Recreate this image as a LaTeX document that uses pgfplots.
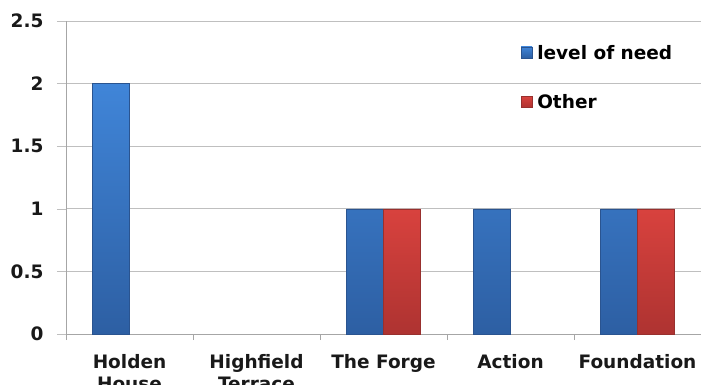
\documentclass[border=0pt]{standalone}
\usepackage{pgfplots}
\pgfplotsset{compat=1.18}
\usepackage{fontspec}
\setmainfont{DejaVu Sans}
\definecolor{bluetop}{HTML}{4085D8}
\definecolor{bluebot}{HTML}{2D5FA3}
\definecolor{blueedge}{HTML}{2A5490}
\definecolor{redtop}{HTML}{D8423E}
\definecolor{redbot}{HTML}{AE3331}
\definecolor{rededge}{HTML}{98302E}
\definecolor{gridc}{HTML}{BFBFBF}
\definecolor{axisc}{HTML}{A6A6A6}
\begin{document}
\begin{tikzpicture}
\begin{axis}[
  at={(0pt,0pt)}, anchor=south west,
  scale only axis,
  width=635pt, height=313pt,
  xmin=-0.5, xmax=4.5,
  ymin=0, ymax=2.5,
  ytick={0,0.5,1,1.5,2,2.5},
  yticklabels={0,0.5,1,1.5,2,2.5},
  xtick={0,1,2,3,4},
  xticklabels={{Holden\\House},{Highfield\\Terrace},{The Forge},{Action},{Foundation}},
  minor xtick={-0.5,0.5,1.5,2.5,3.5,4.5},
  major x tick style={draw=none},
  minor x tick style={axisc},
  minor tick length=6pt,
  major tick length=9pt,
  tick align=outside,
  ytick style={gridc},
  axis x line*=bottom,
  axis y line*=left,
  axis line style={axisc,-},
  ymajorgrids,
  major grid style={gridc, line width=0.8pt},
  ybar=0pt,
  bar width=37pt,
  tick label style={font=\fontsize{18.5}{22}\selectfont\bfseries, text=black!90},
  xticklabel style={align=center, anchor=north, yshift=-8pt},
  yticklabel style={anchor=east, xshift=-10pt},
  /pgf/number format/assume math mode=true,
  legend style={draw=none, fill=none, at={(0.716,0.93)}, anchor=north west,
    font=\fontsize{18.5}{22}\selectfont\bfseries, row sep=30pt, inner sep=0pt,
    cells={anchor=west}},
  legend image code/.code={\path[#1] (0pt,-5pt) rectangle (11pt,6pt); \path (14pt,0pt);},
  clip=false,
]
\addplot[top color=bluetop, bottom color=bluebot, draw=blueedge, line width=0.4pt]
  coordinates {(0,2) (2,1) (3,1) (4,1)};
\addplot[top color=redtop, bottom color=redbot, draw=rededge, line width=0.4pt]
  coordinates {(2,1) (4,1)};
\legend{level of need, Other}
\end{axis}
\pgfresetboundingbox
\path[use as bounding box] (-66pt,-51pt) rectangle (635pt,334pt);
\end{tikzpicture}
\end{document}
